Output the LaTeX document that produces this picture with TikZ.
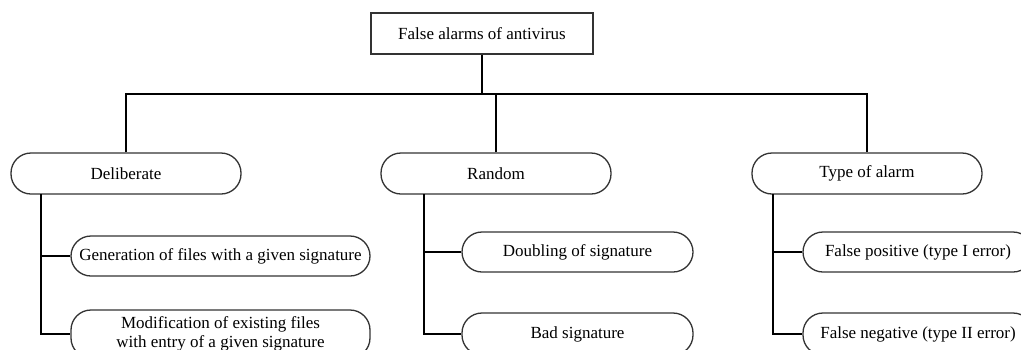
\documentclass[tikz,border=0pt]{standalone}
\usepackage{fontspec}
\setmainfont{Liberation Serif}
\usepackage{xcolor}

\begin{document}
\begin{tikzpicture}[x=1pt,y=-1pt,
    rootbox/.style={draw=black!80,line width=1.3pt,minimum width=222pt,minimum height=41pt,inner sep=0pt},
    pill/.style={draw=black!80,line width=1.3pt,rounded corners=20pt,minimum height=41pt,inner sep=0pt,align=center},
    link/.style={line width=1.8pt}]
    \fontsize{17}{19}\selectfont
    % Frame
    \useasboundingbox (0,0) rectangle (1021,349);
    \clip (0,0) rectangle (1021,349);

    % Top level
    \node[rootbox] (root) at (482,33.5) {False alarms of antivirus};
    \node[pill,minimum width=230pt] (delib) at (126,173.5) {Deliberate};
    \node[pill,minimum width=230pt] (random) at (496,173.5) {Random};
    \node[pill,minimum width=230pt] (alarm) at (867,173.5) {Type of alarm};

    % Leaves
    \node[pill,minimum width=299pt,minimum height=40pt] (gen) at (220.5,256) {Generation of files with a given signature};
    \node[pill,minimum width=299pt,minimum height=48pt] (modif) at (220.5,334) {Modification of existing files\\with entry of a given signature};
    \node[pill,minimum width=231pt,minimum height=40pt] (doubling) at (577.5,252) {Doubling of signature};
    \node[pill,minimum width=231pt,minimum height=42pt] (badsig) at (577.5,334) {Bad signature};
    \node[pill,minimum width=230pt,minimum height=40pt] (fpos) at (918,252) {False positive (type I error)};
    \node[pill,minimum width=230pt,minimum height=42pt] (fneg) at (918,334) {False negative (type II error)};

    % Coordinates
    \coordinate (bus) at (482,94);
    \coordinate (dtrunk) at (41,194);
    \coordinate (rtrunk) at (424,194);
    \coordinate (atrunk) at (773,194);

    % Connectors
    \draw[link] (root.south) -- (bus);
    \draw[link] (delib.north) |- (bus) -| (alarm.north);
    \draw[link] (random.north) -- (random.north |- bus);

    \draw[link] (dtrunk) |- (gen.west);
    \draw[link] (dtrunk) |- (modif.west);
    \draw[link] (rtrunk) |- (doubling.west);
    \draw[link] (rtrunk) |- (badsig.west);
    \draw[link] (atrunk) |- (fpos.west);
    \draw[link] (atrunk) |- (fneg.west);

\end{tikzpicture}
\end{document}
